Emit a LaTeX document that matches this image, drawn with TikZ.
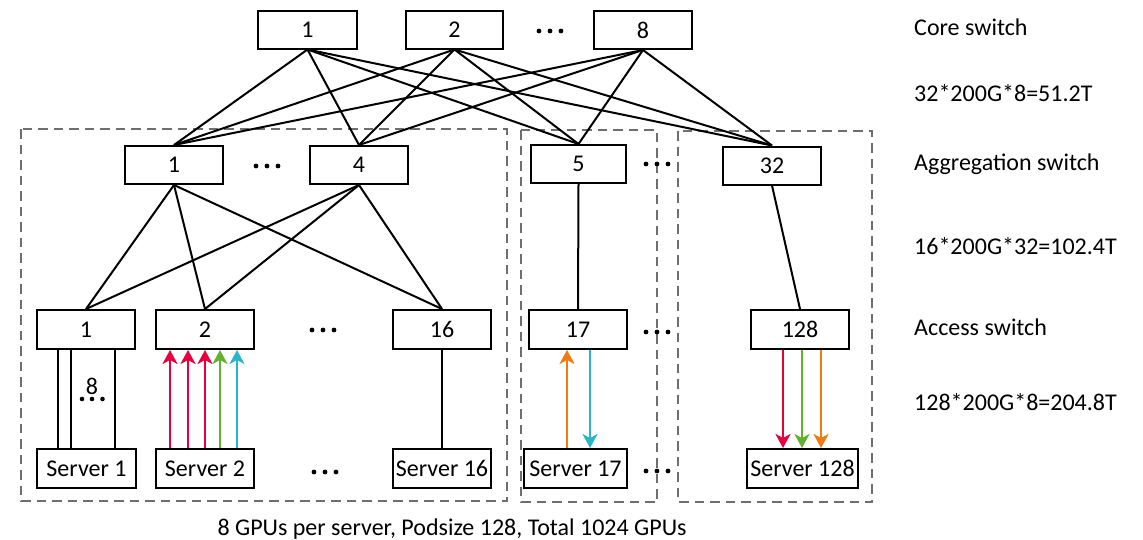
\documentclass[tikz,border=0pt]{standalone}
\usepackage{fontspec}
\setmainfont{Carlito}
\usetikzlibrary{arrows.meta}
\definecolor{cred}{RGB}{232,0,60}
\definecolor{cgreen}{RGB}{98,178,48}
\definecolor{ccyan}{RGB}{40,182,200}
\definecolor{corange}{RGB}{242,122,18}
\definecolor{podgray}{RGB}{110,110,110}
\begin{document}
\begin{tikzpicture}[x=1pt,y=-1pt,
  sw/.style={draw,line width=2pt,minimum height=38pt,minimum width=98pt,inner sep=2pt,font=\fontsize{24}{28}\selectfont},
  link/.style={line width=2pt},
  pod/.style={draw=podgray,dash pattern=on 9.5pt off 6pt,line width=2.5pt},
  flow/.style={line width=2.6pt,-{Stealth[length=14pt,width=15pt,inset=4pt]}},
  lbl/.style={anchor=base west,inner sep=0pt,font=\fontsize{24}{28}\selectfont},
  hdots/.pic={\fill (-11,0) circle (2.4pt) (0,0) circle (2.4pt) (11,0) circle (2.4pt);},
  sdots/.pic={\fill (-10,0) circle (2.3pt) (0,0) circle (2.3pt) (10.5,0) circle (2.3pt);}
]
\useasboundingbox (0,0) rectangle (1143,539);
% pods
\draw[pod] (21,129) rectangle (507,501);
\draw[pod] (521,130) rectangle (657,502);
\draw[pod] (678,131) rectangle (872,502);
% core
\node[sw,minimum width=99pt] (c1) at (307.5,29.5) {1};
\node[sw,minimum width=97pt] (c2) at (454.5,29.5) {2};
\node[sw] (c8) at (643,30) {8};
% aggregation
\node[sw] (a1) at (174,165) {1};
\node[sw] (a4) at (359,165) {4};
\node[sw,minimum width=95pt] (a5) at (578.5,164) {5};
\node[sw] (a32) at (772,165.5) {32};
% access
\node[sw,minimum height=39pt] (s1) at (86,329.5) {1};
\node[sw,minimum height=39pt] (s2) at (205,329.5) {2};
\node[sw,minimum height=39pt] (s16) at (442,329.5) {16};
\node[sw,minimum height=39pt] (s17) at (578,329.5) {17};
\node[sw,minimum height=39pt] (s128) at (800,329.5) {128};
% servers
\node[sw,minimum height=39pt,minimum width=99pt] (v1) at (86.5,468.5) {Server 1};
\node[sw,minimum height=39pt] (v2) at (205,468.5) {Server 2};
\node[sw,minimum height=39pt] (v16) at (442,468.5) {Server 16};
\node[sw,minimum height=39pt,minimum width=103pt] (v17) at (575.5,468.5) {Server 17};
\node[sw,minimum height=39pt,minimum width=111pt] (v128) at (802.5,468.5) {Server 128};
% core - aggregation
\foreach \c in {c1,c2,c8}{
  \foreach \a in {a1,a4,a5,a32}{
    \draw[link] (\c.south) -- (\a.north);
  }
}
% aggregation - access
\foreach \a in {a1,a4}{
  \foreach \s in {s1,s2,s16}{
    \draw[link] (\a.south) -- (\s.north);
  }
}
\draw[link] (a5.south) -- (s17.north);
\draw[link] (a32.south) -- (s128.north);
% access - server
\foreach \dx in {-28,-15,29}{
  \draw[link] ([xshift=\dx pt]s1.south) -- ([xshift=\dx pt]s1.south |- v1.north);
}
\node[inner sep=0pt,font=\fontsize{24}{28}\selectfont] (eight) at (92,386) {8};
\draw[link] (s16.south) -- (v16.north);
% flows
\draw[flow,cred] ([xshift=-35pt]s2.south |- v2.north) -- ([xshift=-35pt]s2.south);
\draw[flow,cred] ([xshift=-17pt]s2.south |- v2.north) -- ([xshift=-17pt]s2.south);
\draw[flow,cred] (s2.south |- v2.north) -- (s2.south);
\draw[flow,cgreen] ([xshift=15pt]s2.south |- v2.north) -- ([xshift=15pt]s2.south);
\draw[flow,ccyan] ([xshift=32pt]s2.south |- v2.north) -- ([xshift=32pt]s2.south);
\draw[flow,corange] ([xshift=-11pt]s17.south |- v17.north) -- ([xshift=-11pt]s17.south);
\draw[flow,ccyan] ([xshift=12pt]s17.south) -- ([xshift=12pt]s17.south |- v17.north);
\draw[flow,cred] ([xshift=-17pt]s128.south) -- ([xshift=-17pt]s128.south |- v128.north);
\draw[flow,cgreen] ([xshift=2pt]s128.south) -- ([xshift=2pt]s128.south |- v128.north);
\draw[flow,corange] ([xshift=21pt]s128.south) -- ([xshift=21pt]s128.south |- v128.north);
% ellipses
\pic at (550,31) {hdots};
\pic at (267,166) {hdots};
\pic at (657,164) {hdots};
\pic at (323,330) {hdots};
\pic at (657,332) {hdots};
\pic at (325,472) {hdots};
\pic at (657,471) {hdots};
\pic at (92,399) {sdots};
% labels
\node[lbl] (l1) at (914,35) {Core switch};
\node[lbl] (l2) at (914,101) {32*200G*8=51.2T};
\node[lbl] (l3) at (914,170) {Aggregation switch};
\node[lbl] (l4) at (914,254) {16*200G*32=102.4T};
\node[lbl] (l5) at (914,335) {Access switch};
\node[lbl] (l6) at (914,410) {128*200G*8=204.8T};
\node[inner sep=0pt,anchor=base,font=\fontsize{24}{28}\selectfont] (cap) at (452,535) {8 GPUs per server, Podsize 128, Total 1024 GPUs};
\end{tikzpicture}
\end{document}
